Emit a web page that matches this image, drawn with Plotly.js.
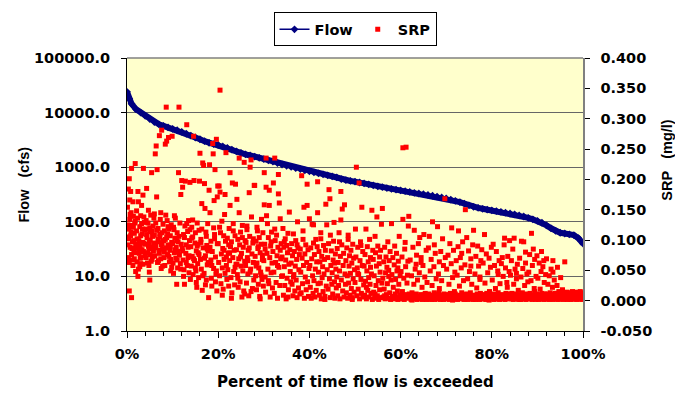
<!DOCTYPE html>
<html>
<head>
<meta charset="utf-8">
<script src="https://cdn.plot.ly/plotly-3.0.1.min.js"></script>
<style>html,body{margin:0;padding:0;background:#fff;}#chart{width:675px;height:396px;}</style>
</head>
<body>
<div id="chart"></div>
<script>
// Flow duration curve (percent of time exceeded, flow in cfs)
const flowPct = [0,0.5,1,2,3,4,5,6,7,8,9,10,11,12,13,14,15,16,17,18,19,20,21,22,23,24,25,26,27,28,29,30,31,32,33,34,35,36,37,38,39,40,41,42,43,44,45,46,47,48,49,50,51,52,53,54,55,56,57,58,59,60,61,62,63,64,65,66,67,68,69,70,71,72,73,74,75,76,77,78,79,80,81,82,83,84,85,86,87,88,89,90,91,92,93,94,95,96,97,98,99,100];
const flowCfs = [24000,18000,14500,11500,10000,8700,7600,6700,6100,5700,5350,5050,4750,4450,4100,3800,3500,3250,3000,2800,2650,2550,2400,2250,2100,1950,1820,1720,1640,1560,1480,1400,1330,1260,1190,1120,1060,1010,960,920,880,840,805,770,740,710,680,650,605,578,560,545,525,505,485,465,445,430,415,400,388,376,364,352,340,330,320,310,300,290,280,268,255,242,230,215,200,188,180,173,167,162,157,152,147,142,137,131,125,118,111,104,96,86,76,68,63,61,59,57,50,40];

// SRP samples (percent of time flow exceeded, SRP mg/l)
const srpPct = [
0.1,0.2,0.3,0.3,0.4,0.5,0.5,0.6,0.7,0.8,0.8,0.9,1.0,1.0,1.1,1.2,1.3,1.3,1.4,1.5,1.6,1.6,1.7,1.8,1.9,1.9,0.2,0.4,0.6,0.9,1.1,1.4,1.7,0.1,0.7,1.2,1.5,1.8,0.5,1.0,
2.0,2.1,2.2,2.3,2.4,2.5,2.5,2.6,2.7,2.8,2.9,3.0,3.0,3.1,3.2,3.3,3.4,3.5,3.5,3.6,3.7,3.8,3.9,2.2,2.6,3.0,3.3,3.7,2.4,2.9,3.4,3.9,2.1,2.8,3.6,3.2,
4.0,4.1,4.2,4.3,4.4,4.5,4.6,4.7,4.8,4.9,5.0,5.0,5.1,5.2,5.3,5.4,5.5,5.6,5.7,5.8,5.9,4.2,4.5,4.8,5.1,5.4,5.7,4.3,4.7,5.0,5.3,5.6,5.9,4.9,
6.0,6.1,6.2,6.3,6.4,6.5,6.6,6.7,6.8,6.9,7.0,7.1,7.2,7.3,7.4,7.5,7.6,7.7,7.8,7.9,6.2,6.5,6.8,7.1,7.4,7.7,6.3,6.9,7.5,6.0,7.2,7.8,
8.0,8.1,8.2,8.3,8.4,8.5,8.6,8.7,8.7,8.8,8.9,9.0,9.1,9.2,9.3,9.4,9.5,9.6,9.7,9.8,9.9,8.2,8.5,8.9,9.2,9.5,9.8,8.4,9.0,9.6,
10.0,10.1,10.2,10.3,10.4,10.5,10.6,10.7,10.8,10.9,11.0,11.1,11.2,11.3,11.4,11.5,11.6,11.7,11.8,11.9,10.2,10.6,11.0,11.4,11.8,10.4,11.2,10.9,
12.0,12.1,12.2,12.3,12.4,12.5,12.6,12.7,12.8,12.9,13.0,13.1,13.2,13.3,13.4,13.5,13.6,13.7,13.8,13.9,12.2,12.6,13.0,13.4,13.8,12.4,13.1,13.6,
14.0,14.1,14.2,14.3,14.4,14.5,14.6,14.7,14.8,14.9,15.0,15.1,15.2,15.3,15.4,15.5,15.6,15.7,15.8,15.9,14.2,14.6,15.0,15.4,15.8,14.4,15.2,15.6,
16.0,16.1,16.2,16.3,16.4,16.5,16.6,16.7,16.8,16.9,17.0,17.1,17.2,17.3,17.4,17.5,17.6,17.7,17.8,17.9,16.2,16.6,17.0,17.4,17.8,16.4,17.2,17.6,
18.0,18.1,18.2,18.3,18.4,18.5,18.6,18.7,18.8,18.9,19.0,19.1,19.2,19.3,19.4,19.5,19.6,19.7,19.8,19.9,18.2,18.6,19.0,19.4,19.8,18.4,19.2,19.6,
20.0,20.1,20.2,20.3,20.4,20.4,20.5,20.6,20.7,20.8,20.9,21.0,21.1,21.2,21.3,21.4,21.5,21.5,21.6,21.7,21.8,21.9,20.3,20.9,21.3,21.8,
22.0,22.1,22.2,22.3,22.4,22.5,22.6,22.6,22.7,22.8,22.9,23.0,23.1,23.2,23.3,23.4,23.5,23.6,23.7,23.8,23.9,22.3,22.9,23.3,23.7,22.5,
24.0,24.1,24.2,24.3,24.4,24.5,24.6,24.6,24.7,24.8,24.9,25.0,25.1,25.2,25.3,25.4,25.5,25.6,25.7,25.8,25.9,24.3,24.9,25.3,25.8,24.1,
26.0,26.1,26.2,26.3,26.4,26.5,26.6,26.7,26.8,26.9,27.0,27.1,27.2,27.3,27.4,27.5,27.6,27.7,27.8,27.9,26.3,26.8,27.2,27.7,26.5,27.0,
28.0,28.1,28.2,28.3,28.4,28.5,28.6,28.7,28.8,28.9,29.0,29.1,29.2,29.3,29.4,29.5,29.6,29.7,29.8,29.9,28.3,28.8,29.2,29.7,28.5,29.4,
30.0,30.1,30.1,30.2,30.3,30.4,30.5,30.5,30.6,30.7,30.8,30.9,31.0,31.1,31.2,31.2,31.3,31.4,31.5,31.6,31.7,31.8,31.9,30.3,31.0,31.6,
32.0,32.1,32.2,32.3,32.4,32.5,32.6,32.7,32.8,32.9,33.0,33.1,33.2,33.2,33.3,33.4,33.5,33.6,33.7,33.8,33.9,32.4,33.0,33.6,
34.0,34.1,34.2,34.3,34.4,34.5,34.6,34.7,34.8,34.9,35.0,35.1,35.2,35.3,35.4,35.5,35.6,35.7,35.8,35.9,34.5,35.3,
36.0,36.1,36.2,36.3,36.4,36.5,36.6,36.7,36.8,36.9,37.0,37.1,37.2,37.3,37.4,37.5,37.6,37.7,37.8,37.9,36.5,37.3,
38.0,38.1,38.2,38.3,38.4,38.5,38.6,38.7,38.8,38.9,39.0,39.1,39.2,39.3,39.4,39.5,39.5,39.6,39.7,39.8,39.9,38.6,
40.0,40.1,40.2,40.3,40.4,40.5,40.6,40.7,40.8,40.9,41.0,41.1,41.2,41.3,41.4,41.5,41.6,41.7,41.8,41.9,40.9,41.8,
42.0,42.1,42.2,42.3,42.4,42.5,42.6,42.7,42.8,42.9,43.0,43.1,43.2,43.3,43.4,43.5,43.6,43.7,43.8,43.9,42.5,43.4,
44.0,44.1,44.2,44.3,44.4,44.5,44.6,44.7,44.8,44.9,45.0,45.1,45.2,45.3,45.4,45.5,45.6,45.7,45.8,45.9,44.6,45.5,
46.0,46.1,46.2,46.3,46.4,46.5,46.6,46.7,46.8,46.9,46.9,47.0,47.1,47.2,47.3,47.4,47.5,47.6,47.7,47.8,47.9,46.6,
48.0,48.1,48.2,48.3,48.4,48.5,48.6,48.7,48.8,48.9,49.0,49.1,49.2,49.3,49.4,49.5,49.6,49.7,49.8,49.9,48.5,49.4,
50.0,50.1,50.2,50.3,50.4,50.5,50.6,50.7,50.8,50.9,51.0,51.1,51.2,51.3,51.4,51.5,51.6,51.7,51.8,51.9,50.6,51.3,
52.0,52.1,52.2,52.3,52.4,52.5,52.6,52.7,52.8,52.9,53.0,53.1,53.2,53.3,53.4,53.5,53.6,53.7,53.8,53.9,52.5,53.4,
54.0,54.1,54.2,54.3,54.4,54.5,54.6,54.7,54.8,54.9,55.0,55.1,55.2,55.3,55.4,55.5,55.6,55.7,55.8,55.9,54.4,55.4,
56.0,56.1,56.2,56.3,56.4,56.5,56.6,56.7,56.8,56.9,57.0,57.1,57.2,57.3,57.4,57.5,57.6,57.7,57.8,57.9,56.5,57.4,
58.0,58.1,58.2,58.3,58.4,58.5,58.6,58.7,58.8,58.9,59.0,59.1,59.2,59.3,59.4,59.5,59.6,59.7,59.8,59.9,58.5,59.4,
60.0,60.1,60.2,60.3,60.4,60.5,60.5,60.6,60.7,60.8,60.9,61.0,61.1,61.2,61.3,61.4,61.5,61.6,61.7,61.8,61.9,60.3,61.0,61.5,
62.0,62.1,62.2,62.3,62.4,62.5,62.6,62.7,62.8,62.9,63.0,63.1,63.2,63.3,63.4,63.5,63.6,63.7,63.8,63.9,62.5,63.4,
64.0,64.1,64.2,64.3,64.4,64.5,64.6,64.7,64.8,64.9,65.0,65.1,65.2,65.3,65.4,65.5,65.6,65.7,65.8,65.9,64.5,65.4,
66.0,66.1,66.2,66.3,66.4,66.5,66.6,66.7,66.8,66.9,67.0,67.1,67.2,67.3,67.4,67.5,67.6,67.7,67.8,67.9,66.5,67.4,
68.0,68.1,68.2,68.3,68.4,68.5,68.6,68.7,68.8,68.9,69.0,69.1,69.2,69.3,69.4,69.5,69.6,69.7,69.8,69.9,68.5,69.4,
70.0,70.1,70.2,70.3,70.4,70.5,70.6,70.7,70.8,70.9,71.0,71.1,71.2,71.3,71.4,71.5,71.6,71.7,71.8,71.9,70.5,71.4,
72.0,72.1,72.2,72.3,72.4,72.5,72.6,72.7,72.8,72.9,73.0,73.1,73.2,73.3,73.4,73.5,73.6,73.7,73.8,73.9,72.5,73.4,
74.0,74.1,74.2,74.3,74.4,74.5,74.6,74.7,74.8,74.9,75.0,75.1,75.2,75.3,75.4,75.5,75.6,75.7,75.8,75.9,74.5,75.4,
76.0,76.1,76.2,76.3,76.4,76.5,76.6,76.7,76.8,76.9,77.0,77.1,77.2,77.3,77.4,77.5,77.6,77.7,77.8,77.9,76.5,77.4,
78.0,78.1,78.2,78.3,78.4,78.5,78.6,78.7,78.8,78.9,79.0,79.1,79.2,79.3,79.4,79.5,79.6,79.7,79.8,79.9,78.5,79.4,
80.0,80.1,80.2,80.3,80.4,80.5,80.6,80.7,80.8,80.9,81.0,81.1,81.2,81.3,81.4,81.5,81.6,81.7,81.8,81.9,80.5,81.4,
82.0,82.1,82.2,82.3,82.4,82.5,82.6,82.7,82.8,82.9,83.0,83.1,83.2,83.3,83.4,83.5,83.6,83.7,83.8,83.9,82.5,83.4,
84.0,84.1,84.2,84.3,84.4,84.5,84.6,84.7,84.8,84.9,85.0,85.1,85.2,85.3,85.4,85.5,85.6,85.7,85.8,85.9,84.5,85.4,
86.0,86.1,86.2,86.3,86.4,86.5,86.6,86.7,86.8,86.9,87.0,87.1,87.2,87.3,87.4,87.5,87.6,87.7,87.8,87.9,86.5,87.4,
88.0,88.1,88.2,88.3,88.4,88.5,88.6,88.7,88.8,88.9,89.0,89.1,89.2,89.3,89.4,89.5,89.6,89.7,89.8,89.9,88.5,89.4,
90.0,90.1,90.2,90.3,90.4,90.5,90.6,90.7,90.8,90.9,91.0,91.1,91.2,91.3,91.4,91.5,91.6,91.7,91.8,91.9,90.5,91.4,
92.0,92.1,92.2,92.3,92.4,92.5,92.6,92.7,92.8,92.9,93.0,93.1,93.2,93.3,93.4,93.5,93.6,93.7,93.8,93.9,92.5,93.4,
94.0,94.1,94.2,94.3,94.4,94.5,94.6,94.7,94.8,94.9,95.0,95.1,95.2,95.3,95.4,95.5,95.6,95.7,95.8,95.9,94.5,95.4,
96.0,96.1,96.2,96.3,96.4,96.5,96.6,96.7,96.8,96.9,97.0,97.1,97.2,97.3,97.4,97.5,97.6,97.7,97.8,97.9,96.5,97.4,
98.0,98.1,98.2,98.3,98.4,98.5,98.6,98.7,98.8,98.9,99.0,99.1,99.2,99.3,99.4,99.5,99.6,99.7,99.8,99.9,100,98.5,99.4,99.8
];
const srpVal = [
.154,.092,.184,.071,.118,.201,.063,.134,.088,.180,.107,.145,.218,.076,.124,.097,.163,.058,.139,.082,.111,.069,.128,.226,.093,.048,.125,.102,.166,.113,.086,.121,.079,.105,.142,.067,.099,.131,.016,.005,
.087,.115,.064,.136,.180,.052,.163,.099,.078,.122,.091,.107,.140,.071,.157,.084,.118,.174,.060,.218,.095,.129,.074,.102,.085,.061,.110,.138,.040,.070,.096,.117,.148,.056,.081,.127,
.093,.118,.071,.185,.104,.062,.128,.149,.085,.097,.034,.113,.076,.141,.089,.211,.068,.106,.123,.082,.095,.132,.079,.058,.100,.115,.073,.109,.090,.120,.065,.087,.136,.047,
.108,.074,.242,.091,.255,.171,.216,.063,.119,.097,.083,.272,.105,.134,.069,.092,.281,.112,.057,.126,.087,.116,.101,.078,.145,.094,.128,.066,.053,.143,.110,.085,
.099,.071,.115,.058,.258,.087,.319,.263,.104,.132,.076,.092,.269,.118,.064,.083,.107,.049,.125,.096,.271,.080,.141,.110,.073,.088,.055,.101,.122,.068,
.094,.062,.045,.117,.079,.103,.136,.070,.088,.027,.112,.054,.097,.211,.319,.075,.128,.061,.175,.093,.121,.084,.067,.106,.052,.140,.081,.099,
.198,.086,.187,.067,.109,.051,.027,.123,.197,.078,.092,.290,.058,.114,.071,.132,.046,.099,.195,.035,.082,.104,.063,.088,.117,.040,.127,.074,
.089,.057,.121,.073,.105,.043,.271,.198,.066,.095,.112,.049,.082,.022,.128,.061,.093,.038,.076,.197,.103,.069,.054,.090,.116,.133,.030,.079,
.243,.068,.101,.052,.160,.017,.227,.087,.223,.045,.193,.152,.074,.113,.034,.091,.059,.127,.082,.005,.096,.041,.070,.106,.063,.118,.026,.085,
.182,.224,.145,.062,.098,.037,.024,.081,.259,.242,.053,.165,.109,.216,.072,.044,.266,.016,.171,.189,.088,.058,.120,.031,.094,.067,.102,.049,
.094,.063,.189,.041,.347,.179,.112,.028,.077,.131,.054,.086,.019,.107,.068,.142,.175,.045,.098,.244,.072,.035,.121,.009,.083,.058,
.103,.051,.078,.024,.119,.066,.211,.157,.089,.038,.097,.013,.194,.071,.115,.048,.083,.026,.107,.192,.060,.092,.004,.127,.055,.079,
.084,.167,.043,.101,.022,.069,.235,.145,.092,.031,.113,.057,.078,.006,.124,.049,.088,.016,.228,.065,.099,.037,.072,.104,.011,.060,
.058,.096,.029,.117,.071,.044,.083,.008,.178,.106,.220,.052,.232,.138,.077,.020,.095,.063,.034,.190,.123,.087,.015,.102,.066,.047,
.190,.073,.041,.098,.018,.062,.115,.086,.027,.054,.104,.007,.079,.047,.093,.134,.035,.068,.112,.024,.057,.089,.003,.075,.121,.042,
.066,.211,.158,.093,.039,.014,.235,.187,.140,.078,.127,.052,.104,.028,.182,.157,.071,.006,.090,.046,.113,.062,.021,.085,.033,.097,
.081,.194,.047,.012,.235,.099,.063,.030,.108,.074,.004,.088,.208,.176,.055,.161,.025,.135,.069,.094,.040,.118,.058,.083,
.072,.041,.119,.009,.088,.056,.025,.102,.067,.003,.091,.037,.079,.111,.018,.060,.146,.084,.048,.031,.097,.006,
.062,.094,.027,.074,.008,.110,.043,.081,.016,.057,.099,.034,.068,.005,.130,.087,.021,.051,.076,.011,.039,.092,
.085,.047,.013,.206,.070,.028,.101,.058,.154,.004,.077,.039,.092,.018,.063,.192,.157,.031,.084,.007,.053,.115,
.135,.058,.022,.087,.004,.069,.126,.041,.012,.095,.033,.076,.006,.052,.101,.017,.064,.089,.196,.028,.125,.145,
.047,.081,.009,.064,.029,.102,.003,.073,.038,.056,.015,.091,.044,.068,.007,.083,.159,.024,.125,.051,.112,.002,
.071,.019,.094,.183,.036,.168,.005,.058,.082,.027,.046,.011,.067,.098,.129,.031,.004,.077,.052,.021,.108,.062,
.039,.086,.008,.063,.025,.112,.049,.003,.073,.180,.133,.034,.092,.151,.016,.058,.078,.006,.158,.044,.027,.097,
.066,.013,.087,.041,.004,.101,.029,.057,.074,.009,.045,.083,.020,.062,.002,.093,.036,.070,.014,.051,.108,.005,
.030,.118,.072,.220,.008,.054,.088,.019,.043,.194,.003,.066,.097,.035,.012,.154,.058,.081,.006,.026,.045,.091,
.057,.009,.076,.032,.118,.003,.049,.089,.017,.064,.038,.006,.101,.027,.071,.012,.044,.149,.002,.083,.022,.055,
.068,.014,.041,.004,.106,.079,.025,.057,.138,.008,.090,.033,.002,.061,.018,.047,.083,.005,.126,.029,.011,.072,
.152,.037,.006,.064,.019,.088,.003,.046,.072,.010,.055,.028,.097,.004,.040,.066,.013,.081,.002,.034,.008,.050,
.127,.043,.007,.071,.022,.003,.059,.090,.011,.035,.005,.078,.049,.016,.002,.065,.027,.106,.009,.041,.004,.054,
.006,.048,.003,.072,.015,.134,.252,.008,.037,.002,.085,.010,.056,.253,.004,.029,.007,.065,.123,.139,.011,.004,.096,.042,
.005,.067,.009,.002,.041,.013,.006,.088,.003,.027,.116,.008,.052,.004,.011,.075,.002,.034,.007,.094,.001,.060,
.007,.046,.104,.003,.010,.071,.005,.022,.002,.058,.009,.109,.004,.039,.012,.006,.083,.002,.030,.008,.063,.003,
.004,.087,.011,.106,.003,.049,.007,.068,.002,.025,.130,.009,.005,.056,.013,.002,.078,.006,.036,.010,.003,.092,
.008,.122,.003,.044,.012,.064,.005,.002,.081,.009,.033,.006,.102,.004,.058,.011,.003,.168,.071,.007,.020,.002,
.005,.052,.010,.003,.075,.007,.027,.002,.094,.012,.004,.061,.120,.008,.038,.003,.083,.006,.015,.047,.009,.001,
.011,.003,.066,.007,.042,.002,.089,.115,.005,.024,.009,.071,.004,.054,.013,.003,.097,.006,.033,.002,.008,.078,
.006,.059,.150,.003,.010,.104,.004,.036,.002,.082,.008,.048,.005,.013,.069,.003,.027,.007,.092,.002,.011,.057,
.116,.004,.009,.044,.002,.073,.006,.021,.011,.090,.003,.057,.007,.002,.035,.012,.066,.005,.084,.003,.008,.039,
.005,.062,.010,.003,.109,.029,.007,.002,.077,.012,.004,.046,.008,.002,.070,.015,.003,.055,.006,.088,.009,.001,
.007,.034,.003,.093,.011,.002,.058,.006,.020,.004,.081,.009,.003,.049,.013,.005,.066,.002,.028,.008,.004,.043,
.005,.061,.010,.071,.003,.040,.007,.092,.103,.002,.054,.012,.004,.030,.008,.073,.003,.011,.048,.099,.006,.022,
.009,.042,.003,.066,.012,.005,.085,.002,.027,.103,.007,.052,.004,.011,.036,.003,.060,.008,.017,.002,.006,.045,
.004,.070,.010,.002,.039,.098,.006,.013,.053,.003,.097,.008,.025,.005,.062,.002,.011,.044,.007,.031,.003,.080,
.008,.047,.003,.076,.012,.005,.033,.111,.002,.058,.009,.085,.004,.020,.068,.006,.002,.040,.011,.074,.004,.015,
.005,.037,.010,.002,.062,.007,.019,.003,.048,.081,.012,.004,.056,.008,.002,.030,.011,.005,.043,.003,.009,.066,
.069,.004,.011,.027,.006,.002,.041,.008,.013,.003,.052,.010,.005,.022,.066,.002,.009,.034,.004,.012,.007,.047,
.006,.012,.003,.025,.055,.008,.002,.015,.005,.010,.003,.038,.007,.012,.004,.018,.009,.002,.006,.013,.004,.011,
.064,.005,.011,.003,.008,.014,.002,.007,.012,.004,.009,.003,.013,.006,.002,.010,.005,.015,.003,.008,.012,.004,
.007,.012,.003,.009,.005,.014,.002,.010,.006,.013,.004,.008,.011,.003,.015,.006,.009,.002,.012,.005,.010,.004,.007,.013
];

// Tick labels
const xTickVals = [0,20,40,60,80,100];
const xTickText = ['0%','20%','40%','60%','80%','100%'];
const flowTickVals = [1,10,100,1000,10000,100000];
const flowTickText = ['1.0','10.0','100.0','1000.0','10000.0','100000.0'];
const srpTickVals = [-0.05,0,0.05,0.1,0.15,0.2,0.25,0.3,0.35,0.4];
const srpTickText = ['-0.050','0.000','0.050','0.100','0.150','0.200','0.250','0.300','0.350','0.400'];

const NAVY = '#000080';
const RED = '#FF0000';
const tickFont = {family: 'DejaVu Sans, sans-serif', size: 14.5, color: '#000', weight: 'bold'};

const traces = [
  {x: flowPct, y: flowCfs, type: 'scatter', mode: 'lines+markers', name: 'Flow', showlegend: false,
   line: {color: NAVY, width: 6}, marker: {symbol: 'diamond', size: 6, color: NAVY}, yaxis: 'y', hoverinfo: 'skip'},
  {x: [null], y: [null], type: 'scatter', mode: 'lines+markers', name: 'Flow',
   line: {color: NAVY, width: 1.5}, marker: {symbol: 'diamond', size: 6, color: NAVY}, yaxis: 'y'},
  {x: srpPct, y: srpVal, type: 'scatter', mode: 'markers', name: 'SRP',
   marker: {symbol: 'square', size: 5, color: RED, line: {width: 0}}, yaxis: 'y2'}
];

const layout = {
  width: 675, height: 396,
  margin: {l: 127, r: 92, t: 55, b: 65, pad: 0},
  paper_bgcolor: '#ffffff',
  plot_bgcolor: '#FFFFCC',
  showlegend: true,
  legend: {orientation: 'h', x: 0.5, xanchor: 'center', y: 1.167, yanchor: 'top',
           bordercolor: '#000', borderwidth: 1, bgcolor: '#fff',
           font: {family: 'DejaVu Sans, sans-serif', size: 14.5, color: '#000', weight: 'bold'},
           itemwidth: 30, tracegroupgap: 0},
  xaxis: {range: [0, 100], tickmode: 'array', tickvals: xTickVals, ticktext: xTickText,
          showgrid: false, zeroline: false, showline: true, linecolor: '#000', linewidth: 1,
          ticks: 'outside', ticklen: 6, tickcolor: '#000', tickwidth: 1,
          minor: {ticks: 'outside', ticklen: 4, tickcolor: '#000', dtick: 4, tick0: 0, showgrid: false},
          tickfont: tickFont, ticklabelstandoff: 4, fixedrange: true},
  yaxis: {type: 'log', range: [0, 5], tickmode: 'array', tickvals: flowTickVals, ticktext: flowTickText,
          showgrid: true, gridcolor: '#666666', gridwidth: 1, zeroline: false,
          showline: true, linecolor: '#000', linewidth: 1,
          ticks: 'outside', ticklen: 5, tickcolor: '#000',
          tickfont: tickFont, ticklabelstandoff: 8, fixedrange: true},
  yaxis2: {overlaying: 'y', side: 'right', range: [-0.05, 0.4], tickmode: 'array',
           tickvals: srpTickVals, ticktext: srpTickText,
           showgrid: false, zeroline: false, showline: true, linecolor: '#808080', linewidth: 1.5,
           ticks: 'outside', ticklen: 5, tickcolor: '#000',
           tickfont: tickFont, ticklabelstandoff: 8, fixedrange: true},
  shapes: [
    {type: 'line', xref: 'paper', yref: 'paper', x0: 0, x1: 1, y0: 1, y1: 1, line: {color: '#808080', width: 1.5}}
  ],
  annotations: [
    {text: 'Flow\u00A0\u00A0\u00A0(cfs)', xref: 'paper', yref: 'paper', x: -0.226, y: 0.536,
     xanchor: 'center', yanchor: 'middle', textangle: -90, showarrow: false,
     font: {family: 'Liberation Sans, Arial, sans-serif', size: 14.5, color: '#000', weight: 'bold'}},
    {text: 'SRP\u00A0\u00A0\u00A0(mg/l)', xref: 'paper', yref: 'paper', x: 1.184, y: 0.627,
     xanchor: 'center', yanchor: 'middle', textangle: -90, showarrow: false,
     font: {family: 'Liberation Sans, Arial, sans-serif', size: 14.5, color: '#000', weight: 'bold'}},
    {text: 'Percent of time flow is exceeded', xref: 'paper', yref: 'paper', x: 0.5, y: -0.185,
     xanchor: 'center', yanchor: 'middle', showarrow: false,
     font: {family: 'DejaVu Sans, sans-serif', size: 15, color: '#000', weight: 'bold'}}
  ]
};

Plotly.newPlot('chart', traces, layout, {displayModeBar: false, staticPlot: true});
</script>
</body>
</html>
